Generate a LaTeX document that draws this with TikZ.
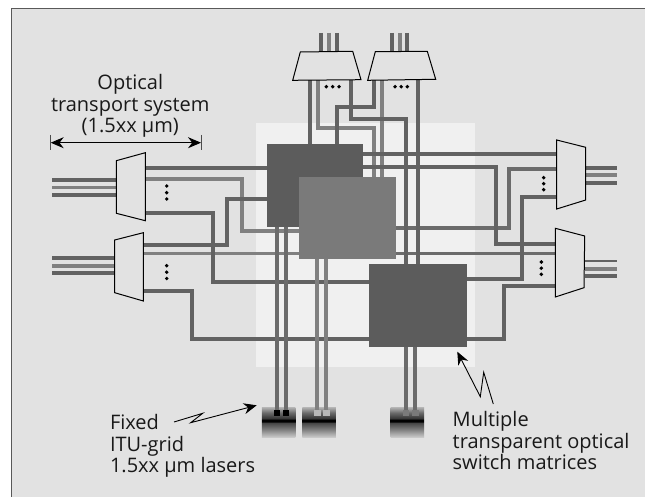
\documentclass[tikz,border=0pt]{standalone}
\usepackage{fontspec}
\setmainfont{Open Sans}
\usetikzlibrary{arrows.meta}
\definecolor{panel}{HTML}{E2E2E2}
\definecolor{lightzone}{HTML}{F0F0F0}
\definecolor{fdark}{HTML}{626262}
\definecolor{fgray}{HTML}{808080}
\definecolor{boxdark}{HTML}{5C5C5C}
\definecolor{boxmid}{HTML}{7A7A7A}
\pgfdeclareverticalshading{laserbands}{100bp}{
  color(0bp)=(black!20); color(25bp)=(black!20);
  color(38bp)=(black!50); color(50bp)=(black!75);
  color(51bp)=(black); color(54.5bp)=(black); color(56bp)=(black!80);
  color(66bp)=(black!58); color(75bp)=(black!30); color(100bp)=(black!30)}
\tikzset{
  fd/.style={draw=fdark,line width=3.8pt},
  fg/.style={draw=fgray,line width=3.8pt},
  fm/.style={draw=black!58,line width=3.8pt},
  mux/.style={draw=black,fill=panel,line width=1pt,line join=miter},
  sw/.style={draw=none,inner sep=0pt,outer sep=0pt,minimum width=#1},
  dotp/.style={fill=black,circle,inner sep=0pt,minimum size=3.9pt},
  laser/.style={draw=none,inner sep=0pt,outer sep=0pt,minimum width=33.5pt,minimum height=30pt,shading=laserbands},
  pad/.style={draw=none,inner sep=0pt,minimum size=6pt},
  lbl/.style={inner sep=0pt,outer sep=0pt,font=\fontsize{20}{21.4}\selectfont,text=black!90},
  pointer/.style={draw=black,line width=0.9pt,-{Stealth[length=13pt,width=11pt]}}
}
\begin{document}
\begin{tikzpicture}[x=1pt,y=-1pt]
\useasboundingbox (0,0) rectangle (645,497);
\fill[white] (0,0) rectangle (645,497);
\fill[panel] (11.3,8.5) rectangle (645,497);
\draw[black!65,line width=1pt] (11.3,497) -- (11.3,8.5) -- (645,8.5);
\fill[lightzone] (256,123) rectangle (474.7,366.7);

% coordinates of the ports
\coordinate (La) at (145.3,167.7); \coordinate (Lb) at (145.3,179.3); \coordinate (Lc) at (145.3,212.7);
\coordinate (Ld) at (143.3,245); \coordinate (Le) at (143.3,253.5); \coordinate (Lf) at (143.3,290.7);
\coordinate (Ra) at (556.7,154); \coordinate (Rb) at (556.7,169); \coordinate (Rc) at (556.7,197.3);
\coordinate (Rd) at (555.3,244.3); \coordinate (Re) at (555.3,253.5); \coordinate (Rf) at (555.3,286);
\coordinate (Ta) at (310.3,80); \coordinate (Tb) at (318,80); \coordinate (Tc) at (350.7,80);
\coordinate (Td) at (373.7,80); \coordinate (Te) at (382,80); \coordinate (Tf) at (418.3,80);

% switch matrices (placed first, so that the connectors may use them)
\path node[sw=96.6pt,minimum height=82.4pt] (A) at (315,185.5) {};
\path node[sw=97pt,minimum height=82.6pt] (B) at (347.5,218) {};
\path node[sw=97.4pt,minimum height=82.7pt] (C) at (418,305.35) {};
\node[laser] (Ls1) at (278.5,422.3) {};
\node[laser] (Ls2) at (319,422.3) {};
\node[laser] (Ls3) at (407.3,422.3) {};
\node[pad] (p1) at (276.7,413) {};
\node[pad] (p2) at (286,413) {};
\node[pad] (p3) at (317.3,413) {};
\node[pad] (p4) at (326.3,413) {};
\node[pad] (p5) at (406,413) {};
\node[pad] (p6) at (415.3,413) {};

% connectors
\draw[fg] (Tb) -- (318,128.3) -- (374.3,128.3) -- (374.3,176.7);
\draw[fg] (Te) -- (Te |- B.north);
\draw[fg] (Lb) -- (242.3,179.3) -- (242.3,230.7) -- (B.west |- 0,230.7);
\draw[fg] (Le) -- (B.west |- Le);
\draw[fm] (Re) -- (B.east |- Re);
\draw[fm] (B.east |- 0,227.7) -- (509.3,227.7) -- (509.3,169) -- (Rb);
\draw[fd] (Ta) -- (Ta |- A.north);
\draw[fd] (Td) -- (373.7,106.7) -- (336.7,106.7) -- (336.7,144.3);
\draw[fd] (Tc) -- (350.7,119) -- (406,119) -- (406,264);
\draw[fd] (Tf) -- (Tf |- C.north);
\draw[fd] (A.east |- Ra) -- (Ra);
\draw[fd] (A.east |- 0,166.7) -- (495.7,166.7) -- (495.7,244.3) -- (Rd);
\draw[fd] (Rc) -- (522.3,197.3) -- (522.3,279.3) -- (C.east |- 0,279.3);
\draw[fd] (Rf) -- (504,286) -- (504,338.7) -- (C.east |- 0,338.7);
\draw[fd] (La) -- (A.west |- La);
\draw[fd] (A.west |- 0,199) -- (226.7,199) -- (226.7,245) -- (Ld);
\draw[fd] (Lc) -- (212.7,212.7) -- (212.7,282.3) -- (C.west |- 0,282.3);
\draw[fd] (Lf) -- (192.3,290.7) -- (192.3,338.7) -- (C.west |- 0,338.7);
\draw[fm] (p1 |- A.south) -- (p1);
\draw[fm] (p2 |- A.south) -- (p2);
\draw[fg] (p3 |- B.south) -- (p3);
\draw[fg] (p4 |- B.south) -- (p4);
\draw[fm] (p5 |- C.south) -- (p5);
\draw[fm] (p6 |- C.south) -- (p6);

% boxes on top of their connectors
\fill[boxdark] (A.south west) rectangle (A.north east);
\fill[boxmid] (B.south west) rectangle (B.north east);
\fill[boxdark] (C.south west) rectangle (C.north east);
\fill[black] (p1.south west) rectangle (p1.north east);
\fill[black] (p2.south west) rectangle (p2.north east);
\fill[black!28] (p3.south west) rectangle (p3.north east);
\fill[black!28] (p4.south west) rectangle (p4.north east);
\fill[black!52] (p5.south west) rectangle (p5.north east);
\fill[black!52] (p6.south west) rectangle (p6.north east);

% outer fibres
\draw[fd] (52,180) -- (116.3,180); \draw[fg] (52,187.5) -- (116.3,187.5); \draw[fd] (52,195) -- (116.3,195);
\draw[fd] (52,258) -- (114.7,258); \draw[fg] (52,265.7) -- (114.7,265.7); \draw[fd] (52,273.3) -- (114.7,273.3);
\draw[fd] (585.7,167.7) -- (617.3,167.7); \draw[fg] (585.7,175.3) -- (617.3,175.3); \draw[fd] (585.7,182.7) -- (617.3,182.7);
\draw[fd,line width=2pt] (584.5,261) -- (617.3,261); \draw[fg] (584.5,268.7) -- (617.3,268.7); \draw[fd] (584.5,276.3) -- (617.3,276.3);
\draw[fd] (321.3,33) -- (321.3,52); \draw[fg] (328.7,33) -- (328.7,52); \draw[fd] (337,33) -- (337,52);
\draw[fd] (392,33) -- (392,52); \draw[fg] (399.7,33) -- (399.7,52); \draw[fd] (407.3,33) -- (407.3,52);

% multiplexers
\draw[mux] (116.3,160.7) -- (145.3,152.7) -- (145.3,220.7) -- (116.3,213.3) -- cycle;
\draw[mux] (114.7,240) -- (143.3,232.7) -- (143.3,301) -- (114.7,292.7) -- cycle;
\draw[mux] (556.7,140) -- (585.7,147.3) -- (585.7,200) -- (556.7,209) -- cycle;
\draw[mux] (555.3,228.3) -- (584.7,236) -- (584,287.7) -- (555.3,297) -- cycle;
\draw[mux] (300.3,52) -- (352.7,51.3) -- (361,79.7) -- (292.7,80.3) -- cycle;
\draw[mux] (375.3,51.7) -- (427.3,51.3) -- (435.7,79.3) -- (367.7,80.3) -- cycle;

% dots
\foreach \x/\y [count=\i] in {166.7/186,166.7/192.7,166.7/199,166.7/265.7,166.7/272.2,166.7/278.5,
  543.7/177.7,543.7/183.7,543.7/189.7,541.3/262,541.3/268.2,541.3/274.3,
  326.3/86.7,332.7/86.7,339/86.7,395/86.7,401.2/86.7,407.3/86.7}
  \node[dotp] (d\i) at (\x,\y) {};

% dimension arrow
\coordinate (dimL) at (50.7,142.7); \coordinate (dimR) at (201,142.7);
\draw[black,line width=0.9pt,{Stealth[length=13pt,width=11pt]}-{Stealth[length=13pt,width=11pt]}] (dimL) -- (dimR);
\draw[black!70,line width=0.9pt] (50.7,135) -- (50.7,150);
\draw[black!70,line width=0.9pt] (201,135) -- (201,150);

% labels
\node[lbl,align=center,anchor=north] (tOTS) at (130.3,74.7) {Optical\\transport system\\(1.5xx µm)};
\node[lbl,align=left,anchor=north west] (tLas) at (110,414.8) {Fixed\\ITU-grid\\1.5xx µm lasers};
\node[lbl,align=left,anchor=north west] (tSw) at (452.7,411.5) {Multiple\\transparent optical\\switch matrices};

% lightning pointers
\coordinate (f0) at (174,422); \coordinate (f1) at (202.7,413.3); \coordinate (f2) at (190.7,422.7); \coordinate (f3) at (256.7,405.3);
\draw[pointer] (f0) -- (f1) -- (f2) -- (f3);
\coordinate (g0) at (493.3,404); \coordinate (g1) at (483.7,372.3); \coordinate (g2) at (480.3,396.7); \coordinate (g3) at (457.3,351.7);
\draw[pointer] (g0) -- (g1) -- (g2) -- (g3);
\end{tikzpicture}
\end{document}
